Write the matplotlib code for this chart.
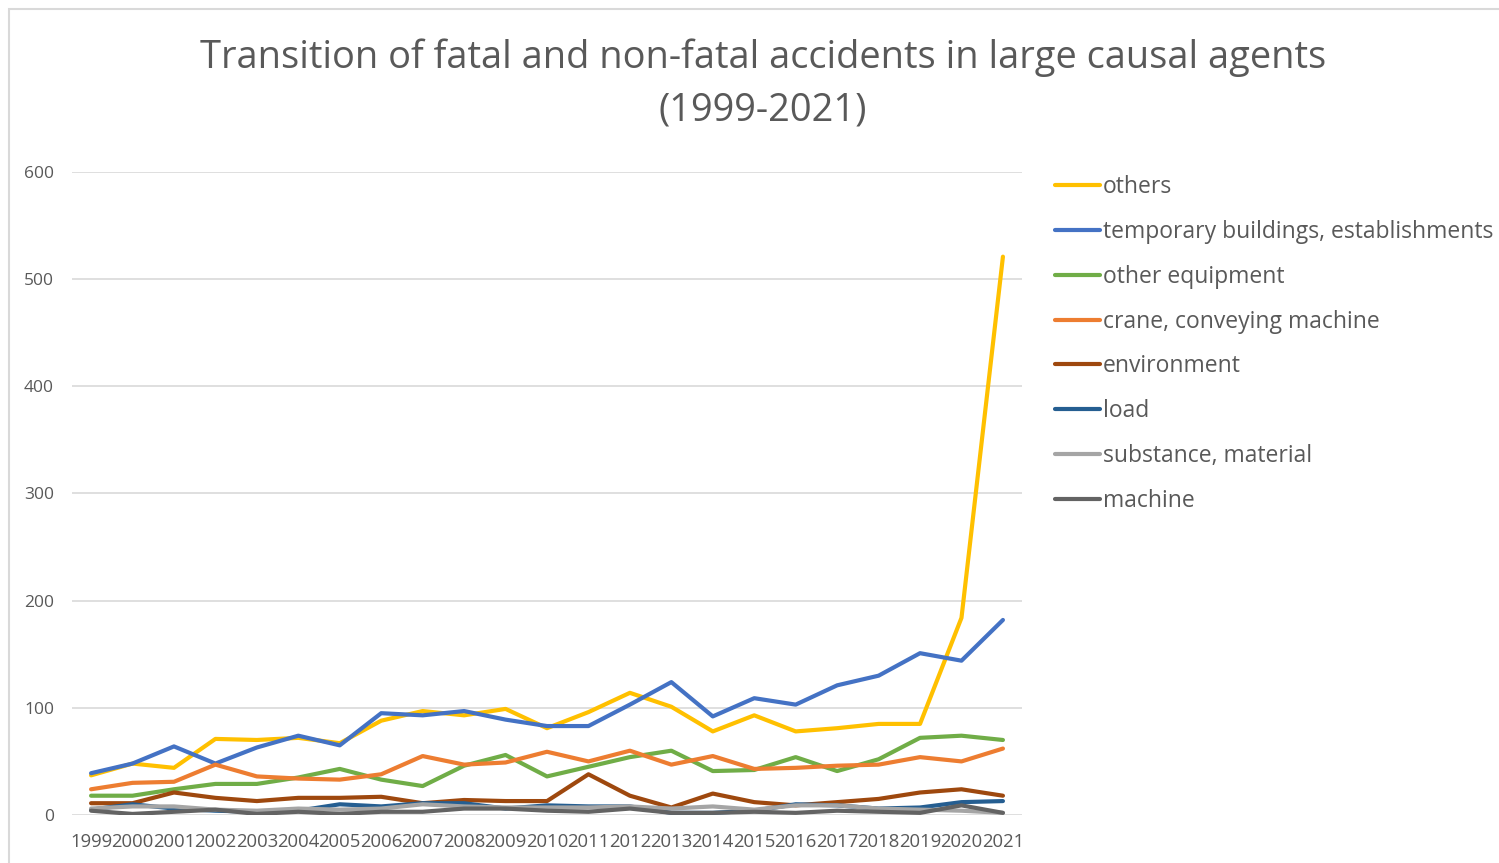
import numpy as np
import matplotlib
matplotlib.use("Agg")
import matplotlib.pyplot as plt
from matplotlib.patches import Rectangle

plt.rcParams['font.family'] = ['Open Sans', 'DejaVu Sans']

# Data
years = [str(y) for y in range(1999, 2022)]
others = [37, 48, 44, 71, 70, 72, 67, 88, 97, 93, 99, 81, 96, 114, 101, 78, 93, 78, 81, 85, 85, 184, 521]
temp_buildings = [39, 48, 64, 48, 63, 74, 65, 95, 93, 97, 89, 83, 83, 103, 124, 92, 109, 103, 121, 130, 151, 144, 182]
other_equipment = [18, 18, 24, 29, 29, 35, 43, 33, 27, 46, 56, 36, 45, 54, 60, 41, 42, 54, 41, 52, 72, 74, 70]
crane = [24, 30, 31, 47, 36, 34, 33, 38, 55, 47, 49, 59, 50, 60, 47, 55, 43, 44, 46, 47, 54, 50, 62]
environment = [11, 11, 21, 16, 13, 16, 16, 17, 11, 14, 13, 13, 38, 18, 7, 20, 12, 9, 12, 15, 21, 24, 18]
load = [5, 10, 6, 4, 3, 4, 10, 8, 11, 11, 6, 9, 8, 8, 2, 2, 4, 10, 9, 6, 7, 12, 13]
substance = [6, 8, 8, 5, 4, 6, 5, 6, 10, 8, 7, 7, 7, 8, 6, 8, 5, 9, 9, 6, 5, 4, 2]
machine = [4, 1, 3, 5, 1, 3, 1, 3, 3, 6, 6, 4, 3, 6, 2, 2, 3, 2, 4, 3, 2, 9, 2]

series = [
    ("others", others, "#FFC000"),
    ("temporary buildings, establishments", temp_buildings, "#4472C4"),
    ("other equipment", other_equipment, "#70AD47"),
    ("crane, conveying machine", crane, "#ED7D31"),
    ("environment", environment, "#9E480E"),
    ("load", load, "#255E91"),
    ("substance, material", substance, "#A5A5A5"),
    ("machine", machine, "#636363"),
]

W, H = 1499, 863
fig = plt.figure(figsize=(W / 100, H / 100), dpi=100)
ax = fig.add_axes([72 / W, 1 - 815 / H, (1022 - 72) / W, (815 - 172) / H])

x = np.arange(len(years))
for name, vals, col in series:
    ax.plot(x, vals, color=col, lw=3, label=name, solid_capstyle='round', solid_joinstyle='round')

ax.set_xlim(-0.46, len(years) - 0.54)
ax.set_ylim(0, 600)
ax.set_yticks(range(0, 601, 100))
ax.set_xticks(x)
ax.set_xticklabels(years)
ax.grid(axis='y', color='#D9D9D9', lw=1.2)
ax.set_axisbelow(True)
for s in ax.spines.values():
    s.set_visible(False)
ax.tick_params(length=0, colors='#595959', labelsize=12.5)
ax.tick_params(axis='x', labelsize=13.3, pad=13)
ax.tick_params(axis='y', pad=13)

fig.text(763 / W, 1 - 84 / H, "Transition of fatal and non-fatal accidents in large causal agents\n(1999-2021)",
         ha='center', va='center', fontsize=27.4, color='#595959', linespacing=1.48)

fig.legend(loc='upper left', bbox_to_anchor=(1055 / W, 1 - 175 / H), frameon=False,
           fontsize=16.5, handlelength=1.97, handletextpad=0.13, labelspacing=0.91,
           labelcolor='#595959', borderaxespad=0, borderpad=0)

# chart area border
fig.patches.append(Rectangle((9 / W, -0.1), 1.2, 1 - 9 / H + 0.1, transform=fig.transFigure,
                             fill=False, ec='#D9D9D9', lw=1.5))

fig.savefig("out.png", dpi=100)
